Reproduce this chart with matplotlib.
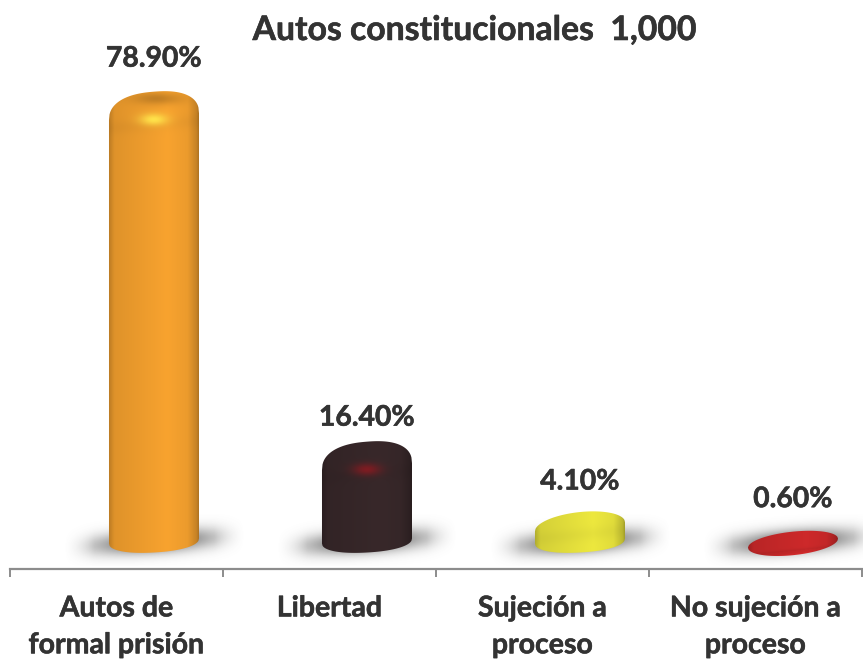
import numpy as np
import matplotlib
matplotlib.use("Agg")
import matplotlib.pyplot as plt
import matplotlib.patheffects as pe
from matplotlib.path import Path
from matplotlib.patches import PathPatch
from matplotlib.colors import to_rgb

categories = ["Autos de\nformal prisión", "Libertad", "Sujeción a\nproceso", "No sujeción a\nproceso"]
values = [78.9, 16.4, 4.1, 0.6]
value_labels = ["78.90%", "16.40%", "4.10%", "0.60%"]
title = "Autos constitucionales  1,000"

colors = ["#F8A32F", "#38282A", "#EDE83E", "#D62B2C"]
glows = ["#FFE24A", "#7E1C22", "#F7F25A", "#E03030"]
label_pads = [33, 24, 29, 31]

W, H = 863, 659
DPI = 100
TEXT = "#333333"
plt.rcParams["font.family"] = ["Lato", "DejaVu Sans"]
HEAVY = [pe.withStroke(linewidth=0.4, foreground=TEXT)]

fig = plt.figure(figsize=(W / DPI, H / DPI), dpi=DPI, facecolor="white")
AX_L, AX_R, AX_Y = 10, 862, 569
ax = fig.add_axes([AX_L / W, 1 - AX_Y / H, (AX_R - AX_L) / W, AX_Y / H])
ax.patch.set_alpha(0)

PX_PER_UNIT = 5.6
ZERO_PX = 533.5
PX_PER_CAT = (AX_R - AX_L) / 4
XLIM = (-0.5, 3.5)
YLIM = ((ZERO_PX - AX_Y) / PX_PER_UNIT, ZERO_PX / PX_PER_UNIT)


def dy(py):
    return (ZERO_PX - py) / PX_PER_UNIT


def dx(px):
    return (px - AX_L) / PX_PER_CAT - 0.5


OFFSET = 0.176
HALF_W = 45
BASE_Y = 541


def outline(cx, top_px, cap):
    """Closed outline in pixel coordinates: rounded tilted top, elliptical base."""
    tall = cap > 18
    tilt = 3.5 if tall else 4.5
    u = np.linspace(-1, 1, 161)
    p = 2.4 if tall else 2.0
    yc = top_px + cap
    top = yc - tilt * u - cap * (1 - np.abs(u) ** p) ** (1 / p)
    bot = BASE_Y - 2.5 * u + 11.5 * (1 - np.abs(u) ** 2.2) ** (1 / 2.2)
    if cap < 14:
        bot = yc - tilt * u + 12 * (1 - np.abs(u) ** 2) ** 0.5
    xs = cx + HALF_W * np.r_[u, u[::-1]]
    ys = np.r_[top, bot[::-1]]
    return xs, ys, yc, tilt


for i, (val, col, glow) in enumerate(zip(values, colors, glows)):
    cx = AX_L + (i + 0.5 + OFFSET) * PX_PER_CAT
    top_px = ZERO_PX - val * PX_PER_UNIT + (1.5 if val < 10 else 0)
    cap = min(25.0, 11.0 + 0.9 * val)

    # floor shadow
    sx = np.linspace(cx - 90, cx + 90, 240)
    sy = np.linspace(514, 566, 80)
    X, Y = np.meshgrid(sx, sy)
    off = (Y - 541.5) + (X - cx) * 0.07
    a = 0.95 * np.exp(-((X - cx) / 62) ** 2 - (off / 11.5) ** 2)
    a *= np.clip((90 - np.abs(X - cx)) / 30, 0, 1)
    rgba = np.zeros(X.shape + (4,))
    rgba[..., :3] = 0.36
    rgba[..., 3] = a
    ax.imshow(rgba, extent=(dx(sx[0]), dx(sx[-1]), dy(sy[-1]), dy(sy[0])),
              origin="upper", aspect="auto", interpolation="bilinear", zorder=1)

    # body with cylinder shading
    xs, ys, yc, tilt = outline(cx, top_px, cap)
    verts = np.c_[dx(xs), dy(ys)]
    path = Path(np.r_[verts, verts[:1]], closed=True)
    patch = PathPatch(path, facecolor="none", edgecolor="none", transform=ax.transData, zorder=2)
    ax.add_patch(patch)

    gx = np.linspace(cx - HALF_W - 1, cx + HALF_W + 1, 200)
    gy = np.linspace(top_px - 1, 556, max(60, int(556 - top_px)))
    X, Y = np.meshgrid(gx, gy)
    U = (X - cx) / HALF_W
    base = np.array(to_rgb(col))
    shade = np.interp(U, [-1.02, -0.88, -0.4, 0.3, 0.75, 0.95, 1.02],
                      [0.74, 0.90, 0.94, 1.0, 0.95, 0.80, 0.66])
    if cap > 14:
        # dome: soft rim just above the body
        rim = yc - tilt * U
        shade = shade * (1 - 0.03 * np.exp(-((Y - rim - 8) / 7) ** 2))
    else:
        rim = yc - tilt * U + 8
        shade = np.where(Y > rim, shade * 1.03, shade * 0.96)
        shade = shade * (1 - 0.10 * np.exp(-((Y - rim - 1) / 2.5) ** 2))
    img = base[None, None, :] * shade[..., None]
    if val > 10:
        g = np.array(to_rgb(glow))
        w = np.exp(-((X - cx) / 14) ** 2 - ((Y - (top_px + 28)) / 6) ** 2)[..., None]
        img = img * (1 - w) + g * w
        if i == 0:
            w2 = 0.20 * np.exp(-((X - cx - 4) / 24) ** 2 - ((Y - (top_px + 7)) / 6) ** 2)[..., None]
            img = img * (1 - w2)
    im = ax.imshow(np.clip(img, 0, 1), extent=(dx(gx[0]), dx(gx[-1]), dy(gy[-1]), dy(gy[0])),
                   origin="upper", aspect="auto", interpolation="bilinear", zorder=3)
    im.set_clip_path(patch)

    # value label above the mark
    ax.annotate(value_labels[i], xy=(i + OFFSET, val), xytext=(0, label_pads[i] * 72 / DPI),
                textcoords="offset points", ha="center", va="center",
                fontsize=20.4, fontweight="bold", color=TEXT, zorder=5, path_effects=HEAVY)

ax.set_xlim(*XLIM)
ax.set_ylim(*YLIM)
ax.yaxis.set_visible(False)
for s in ("top", "left", "right"):
    ax.spines[s].set_visible(False)
ax.spines["bottom"].set_color("#8C8C8C")
ax.spines["bottom"].set_linewidth(1.6)

ax.set_xticks(np.arange(-0.5, 4, 1))
ax.set_xticklabels([])
ax.tick_params(axis="x", which="major", length=6, width=1.4, color="#8C8C8C")
ax.set_xticks(np.arange(4), minor=True)
labs = ax.set_xticklabels(categories, minor=True, fontsize=20.5, fontweight="bold", color=TEXT,
                          linespacing=1.52, va="top")
for t in labs:
    t.set_path_effects(HEAVY)
ax.tick_params(axis="x", which="minor", length=0, pad=19)

fig.text(475 / W, 1 - 30 / H, title, ha="center", va="center", fontsize=24.3,
         fontweight="bold", color=TEXT, path_effects=HEAVY)

fig.savefig("out.png", dpi=DPI, facecolor="white")
